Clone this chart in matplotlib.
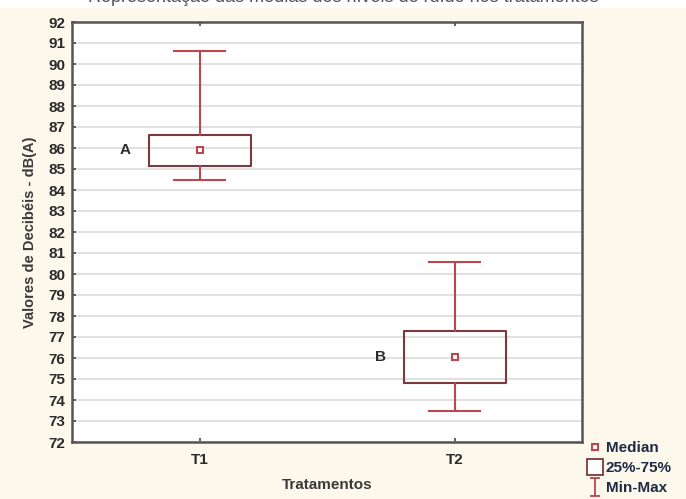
import matplotlib
matplotlib.use("Agg")
import matplotlib.pyplot as plt
from matplotlib.lines import Line2D
from matplotlib.patches import Rectangle
from matplotlib.path import Path

plt.rcParams['font.family'] = ['Liberation Sans', 'DejaVu Sans']

# --- data ---
treatments = ["T1", "T2"]
mins = [84.5, 73.5]
q1s = [85.15, 74.8]
medians = [85.9, 76.05]
q3s = [86.6, 77.3]
maxs = [90.6, 80.55]
groups = ["A", "B"]

BOX_EDGE = "#7a3a3e"
WHISK = "#b8474f"
CREAM = "#fdf8ec"
TEXT = "#2b2b2b"

fig = plt.figure(figsize=(6.86, 4.99), dpi=100, facecolor="white")
# cream panel below the (cut off) title strip
fig.patches.append(Rectangle((0, 0), 1, 491 / 499, transform=fig.transFigure,
                             facecolor=CREAM, edgecolor="none", zorder=-10))
fig.text(0.5, 1 - 2.5 / 499, "Representação das médias dos níveis de ruído nos tratamentos",
         ha="center", va="baseline", fontsize=13, color="#555555")

ax = fig.add_axes([72 / 686, 57 / 499, 510 / 686, 420 / 499])
ax.set_facecolor("white")

stats = []
for i, t in enumerate(treatments):
    stats.append(dict(label=t, whislo=mins[i], q1=q1s[i], med=medians[i],
                      q3=q3s[i], whishi=maxs[i], fliers=[]))

pos = list(range(1, len(treatments) + 1))
ax.bxp(stats, positions=pos, widths=0.4, showcaps=True, patch_artist=False,
       boxprops=dict(color=BOX_EDGE, linewidth=1.5),
       whiskerprops=dict(color=WHISK, linewidth=1.5),
       capprops=dict(color=WHISK, linewidth=1.5),
       medianprops=dict(linewidth=0), capwidths=0.2)
ax.plot(pos, medians, linestyle="none", marker="s", markersize=4.5,
        markerfacecolor="white", markeredgecolor=WHISK, markeredgewidth=1.5,
        zorder=5)

for i, g in enumerate(groups):
    ax.text(pos[i] - 0.29, medians[i], g, ha="center", va="center",
            fontsize=11, fontweight="bold", color=TEXT)

ax.set_xlim(0.5, 2.5)
ax.set_ylim(72, 92)
ax.set_yticks(range(72, 93))
ax.set_xticks(pos)
ax.set_xticklabels(treatments)
ax.yaxis.grid(True, color="#dcdcdc", linewidth=1.2)
ax.set_axisbelow(True)
ax.tick_params(direction="in", length=3, width=1.2, color="#444444",
               labelsize=11, labelcolor=TEXT, top=True)
ax.tick_params(axis="y", pad=5)
ax.tick_params(axis="x", pad=8)
for lab in ax.get_xticklabels() + ax.get_yticklabels():
    lab.set_fontweight("bold")
for sp in ax.spines.values():
    sp.set_color("#555555")
    sp.set_linewidth(1.8)

ax.set_xlabel("Tratamentos", fontsize=11, fontweight="bold", color="#3a3a3a",
              labelpad=8)
ax.set_ylabel("Valores de Decibéis - dB(A)", fontsize=10.5, fontweight="bold",
              color="#3a3a3a", labelpad=8)

# legend
ibar = Path([(-0.5, 1), (0.5, 1), (0, 1), (0, -1), (-0.5, -1), (0.5, -1)],
            [Path.MOVETO, Path.LINETO, Path.MOVETO, Path.LINETO,
             Path.MOVETO, Path.LINETO])
handles = [
    Line2D([], [], linestyle="none", marker="s", markersize=5,
           markerfacecolor="white", markeredgecolor=WHISK, markeredgewidth=1.5),
    Line2D([], [], linestyle="none", marker="s", markersize=12,
           markerfacecolor="white", markeredgecolor=BOX_EDGE, markeredgewidth=1.3),
    Line2D([], [], linestyle="none", marker=ibar, markersize=13,
           markerfacecolor="none", markeredgecolor=WHISK, markeredgewidth=1.3),
]
leg = fig.legend(handles, ["Median", "25%-75%", "Min-Max"],
                 loc="lower left", bbox_to_anchor=(583 / 686, -0.004),
                 frameon=False, handlelength=0.8, handletextpad=0.3,
                 labelspacing=0.38, borderaxespad=0.0,
                 prop=dict(size=11, weight="bold"))
for t in leg.get_texts():
    t.set_color("#1f2a44")

fig.savefig("out.png", dpi=100, facecolor=fig.get_facecolor())
